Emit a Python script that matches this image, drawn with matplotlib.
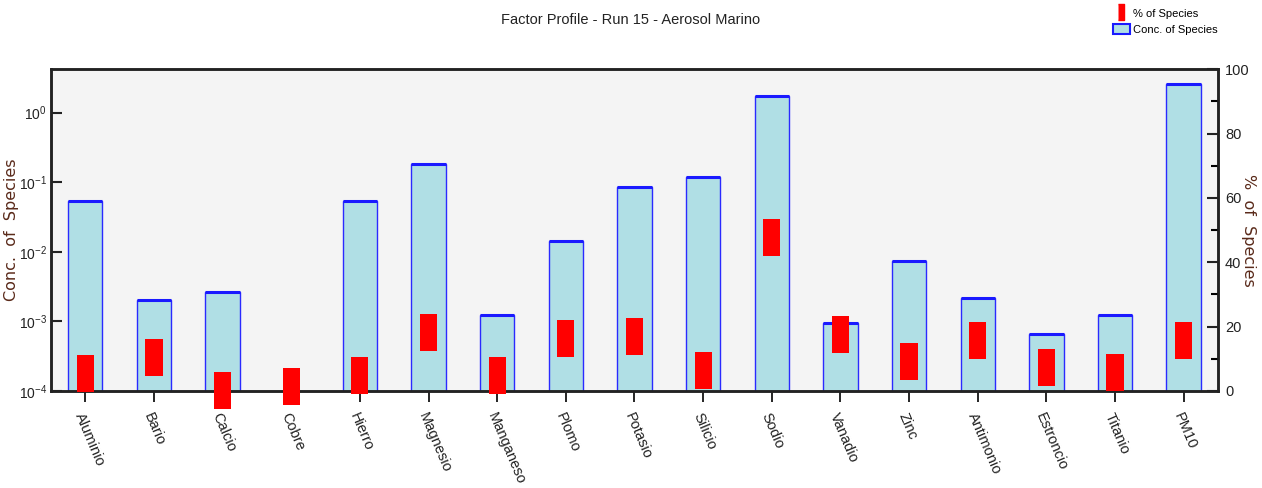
import numpy as np
import matplotlib.pyplot as plt
from matplotlib.lines import Line2D
from matplotlib.patches import Patch
from matplotlib.ticker import NullLocator, MultipleLocator

# Data
species = ['Aluminio', 'Bario', 'Calcio', 'Cobre', 'Hierro', 'Magnesio', 'Manganeso',
           'Plomo', 'Potasio', 'Silicio', 'Sodio', 'Vanadio', 'Zinc', 'Antimonio',
           'Estroncio', 'Titanio', 'PM10']
conc = [0.054, 0.00204, 0.00265, np.nan, 0.054, 0.18, 0.00123,
        0.0145, 0.0855, 0.12, 1.74, 0.00094, 0.0073, 0.00215,
        0.00067, 0.00124, 2.61]
pct = [5.4, 10.5, 0.1, 1.5, 4.7, 18.1, 4.7,
       16.2, 16.9, 6.5, 47.6, 17.5, 9.1, 15.6,
       7.2, 5.8, 15.6]

plt.rcParams['font.family'] = ['Liberation Sans', 'DejaVu Sans']
plt.rcParams['mathtext.fontset'] = 'custom'
plt.rcParams['mathtext.rm'] = 'Liberation Sans'
plt.rcParams['mathtext.it'] = 'Liberation Sans'

brown = '#5a2a1a'
x = np.arange(len(species))
conc = np.array(conc)
pct = np.array(pct)

fig = plt.figure(figsize=(12.62, 4.88), dpi=100)
ax = fig.add_axes([0.0404, 0.1988, 0.9247, 0.6592])
ax.set_facecolor('#f4f4f4')
ax.set_yscale('log')

# concentration bars (blue sides, thicker blue top)
mask = ~np.isnan(conc)
ax.bar(x[mask], conc[mask], width=0.5, color='#b0dfe5', edgecolor='#2a2aff',
       linewidth=1, zorder=2)
ax.hlines(conc[mask], x[mask] - 0.25, x[mask] + 0.25, color='#1a1aff',
          linewidth=2.2, zorder=3)

ax.set_ylim(1e-4, 4.2)
ax.set_xlim(-0.5, len(species) - 0.5)
ax.set_yticks([1e-4, 1e-3, 1e-2, 1e-1, 1e0])
ax.yaxis.set_minor_locator(NullLocator())
ax.set_yticklabels([r'$\mathdefault{10^{%d}}$' % e for e in [-4, -3, -2, -1, 0]],
                   fontsize=10)
ax.tick_params(axis='y', direction='in', length=8, width=1.5, pad=3, colors='#222222')
ax.set_ylabel('Conc.  of  Species', family='DejaVu Sans', fontsize=11.5, color=brown)
ax.yaxis.set_label_coords(-0.0335, 0.5)
ax.yaxis.label.set_va('center')

ax.set_xticks(x)
ax.set_xticklabels(species, rotation=-67, ha='left', va='top',
                   rotation_mode='anchor', fontsize=10.5, color='#222222')
ax.tick_params(axis='x', direction='inout', length=16, width=1.2, pad=6)

# percent of species on right axis
ax2 = ax.twinx()
ax2.set_ylim(0, 100)
MARK_H = 11.5
ax2.bar(x, MARK_H, bottom=pct - MARK_H / 2, width=0.25, color='#ff0000',
        edgecolor='none', clip_on=False, zorder=4)
ax2.yaxis.set_major_locator(MultipleLocator(20))
ax2.yaxis.set_minor_locator(MultipleLocator(10))
ax2.tick_params(axis='y', which='major', direction='in', length=8, width=1.5,
                pad=5, labelsize=10.5, colors='#222222')
ax2.tick_params(axis='y', which='minor', direction='in', length=5, width=1.5)
ax2.set_ylabel('%  of  Species', family='DejaVu Sans', fontsize=11.5, color=brown,
               rotation=270)
ax2.yaxis.set_label_coords(1.0265, 0.5)
ax2.yaxis.label.set_va('center')

for a in (ax, ax2):
    for s in a.spines.values():
        s.set_linewidth(1.8)
        s.set_color('#222222')

fig.text(0.5, 0.958, 'Factor Profile - Run 15 - Aerosol Marino', ha='center',
         va='center', fontsize=10.5, color='#222222')

red_marker = Line2D([], [], linestyle='none', color='red',
                    marker=[(-0.4, -1), (0.4, -1), (0.4, 1), (-0.4, 1)],
                    markersize=11)
blue_patch = Patch(facecolor='#b0dfe5', edgecolor='#1a1aff', linewidth=1.5)
fig.legend([red_marker, blue_patch], ['% of Species', 'Conc. of Species'],
           loc='upper right', bbox_to_anchor=(0.971, 1.0), frameon=False,
           fontsize=8, handlelength=1.5, handleheight=1.0, handletextpad=0.3,
           labelspacing=0.5, borderaxespad=0.3)

fig.savefig('out.png', dpi=100)
